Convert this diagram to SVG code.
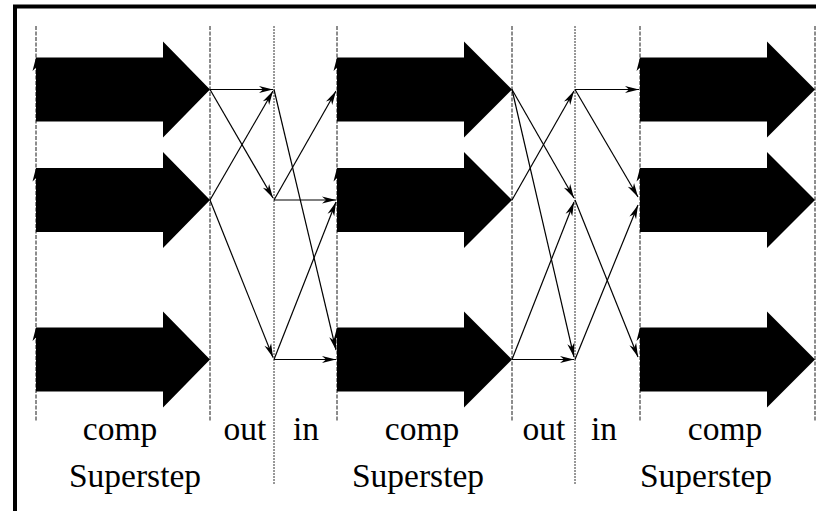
<svg xmlns="http://www.w3.org/2000/svg" width="816" height="511" viewBox="0 0 816 511">
  <defs>
    <style>
      .phase { stroke: #1a1a1a; stroke-width: 1; stroke-dasharray: 4 1.5; fill: none; }
      .sync { stroke: #333; stroke-width: 1; stroke-dasharray: 2 1; fill: none; }
      .block { fill: #000; stroke: none; }
      .tick { fill: #000; }
      .msg { stroke: #000; stroke-width: 1.2; fill: none; marker-end: url(#head); }
      .lbl { font-family: "Liberation Serif", "Times New Roman", serif; font-size: 33.5px; fill: #000; text-anchor: middle; }
    </style>
    <marker id="head" markerUnits="userSpaceOnUse" markerWidth="20" markerHeight="20" refX="0" refY="0" viewBox="-16 -8 20 16" orient="auto" overflow="visible">
      <path d="M0,0 L-14,-3.6 L-10,0 L-14,3.6 Z" fill="#000"/>
    </marker>
  </defs>

  <rect width="816" height="511" fill="#fff"/>

  <!-- outer frame (runs off the right and bottom edges) -->
  <rect x="15" y="6.5" width="830" height="530" fill="none" stroke="#000" stroke-width="4"/>

  <!-- phase boundaries -->
  <g id="boundaries">
    <line class="phase" x1="36" y1="26" x2="36" y2="422"/>
    <line class="phase" x1="210" y1="26" x2="210" y2="422"/>
    <line class="sync" x1="274" y1="26" x2="274" y2="485"/>
    <line class="phase" x1="337" y1="26" x2="337" y2="422"/>
    <line class="phase" x1="512" y1="26" x2="512" y2="422"/>
    <line class="sync" x1="575" y1="26" x2="575" y2="485"/>
    <line class="phase" x1="640" y1="26" x2="640" y2="422"/>
    <line class="phase" x1="815" y1="26" x2="815" y2="422"/>
  </g>

  <!-- small arrow tips where boundaries meet the blocks -->
  <g id="ticks">
    <polygon class="tick" points="36,57.5 32.5,71 36,67.5 39.5,71"/>
    <polygon class="tick" points="36,168 32.5,181.5 36,178 39.5,181.5"/>
    <polygon class="tick" points="36,327.5 32.5,341 36,337.5 39.5,341"/>
    <polygon class="tick" points="337,57.5 333.5,71 337,67.5 340.5,71"/>
    <polygon class="tick" points="337,168 333.5,181.5 337,178 340.5,181.5"/>
    <polygon class="tick" points="337,327.5 333.5,341 337,337.5 340.5,341"/>
    <polygon class="tick" points="640,57.5 636.5,71 640,67.5 643.5,71"/>
    <polygon class="tick" points="640,168 636.5,181.5 640,178 643.5,181.5"/>
    <polygon class="tick" points="640,327.5 636.5,341 640,337.5 643.5,341"/>
  </g>

  <!-- computation blocks, superstep 1 -->
  <g id="s1-p1"><polygon class="block" points="36,57.5 163,57.5 163,41.5 210,89.5 163,137.5 163,121.5 36,121.5"/></g>
  <g id="s1-p2"><polygon class="block" points="36,168 163,168 163,152 210,200 163,248 163,232 36,232"/></g>
  <g id="s1-p3"><polygon class="block" points="36,327.5 163,327.5 163,311.5 210,359.5 163,407.5 163,391.5 36,391.5"/></g>

  <!-- computation blocks, superstep 2 -->
  <g id="s2-p1"><polygon class="block" points="337,57.5 464,57.5 464,41.5 512,89.5 464,137.5 464,121.5 337,121.5"/></g>
  <g id="s2-p2"><polygon class="block" points="337,168 464,168 464,152 512,200 464,248 464,232 337,232"/></g>
  <g id="s2-p3"><polygon class="block" points="337,327.5 464,327.5 464,311.5 512,359.5 464,407.5 464,391.5 337,391.5"/></g>

  <!-- computation blocks, superstep 3 -->
  <g id="s3-p1"><polygon class="block" points="640,57.5 767,57.5 767,41.5 815,89.5 767,137.5 767,121.5 640,121.5"/></g>
  <g id="s3-p2"><polygon class="block" points="640,168 767,168 767,152 815,200 767,248 767,232 640,232"/></g>
  <g id="s3-p3"><polygon class="block" points="640,327.5 767,327.5 767,311.5 815,359.5 767,407.5 767,391.5 640,391.5"/></g>

  <!-- message traffic -->
  <g id="connectors">
    <!-- exchange 1: out -->
    <line class="msg" x1="210" y1="89.5" x2="273" y2="89.5"/>
    <line class="msg" x1="210" y1="89.5" x2="273" y2="198"/>
    <line class="msg" x1="210" y1="200" x2="273" y2="91"/>
    <line class="msg" x1="210" y1="200" x2="273" y2="357.5"/>
    <!-- exchange 1: in -->
    <line class="msg" x1="274" y1="89.5" x2="336" y2="350"/>
    <line class="msg" x1="274" y1="200" x2="336" y2="91"/>
    <line class="msg" x1="274" y1="200" x2="336" y2="200"/>
    <line class="msg" x1="274" y1="359.5" x2="336" y2="202"/>
    <line class="msg" x1="274" y1="359.5" x2="336" y2="359.5"/>
    <!-- exchange 2: out -->
    <line class="msg" x1="512" y1="89.5" x2="574" y2="198"/>
    <line class="msg" x1="512" y1="89.5" x2="574" y2="357"/>
    <line class="msg" x1="512" y1="200" x2="574" y2="91"/>
    <line class="msg" x1="512" y1="359.5" x2="574" y2="202"/>
    <line class="msg" x1="512" y1="359.5" x2="574" y2="359.5"/>
    <!-- exchange 2: in -->
    <line class="msg" x1="575" y1="89.5" x2="639" y2="89.5"/>
    <line class="msg" x1="575" y1="89.5" x2="638" y2="197"/>
    <line class="msg" x1="575" y1="200" x2="638" y2="357"/>
    <line class="msg" x1="575" y1="359.5" x2="638" y2="205"/>
  </g>

  <!-- phase labels -->
  <g id="labels">
    <text class="lbl" x="120" y="440">comp</text>
    <text class="lbl" x="245" y="440">out</text>
    <text class="lbl" x="306" y="440">in</text>
    <text class="lbl" x="422" y="440">comp</text>
    <text class="lbl" x="544" y="440">out</text>
    <text class="lbl" x="604" y="440">in</text>
    <text class="lbl" x="725" y="440">comp</text>
    <text class="lbl" x="135" y="487">Superstep</text>
    <text class="lbl" x="418" y="487">Superstep</text>
    <text class="lbl" x="706" y="487">Superstep</text>
  </g>
</svg>
